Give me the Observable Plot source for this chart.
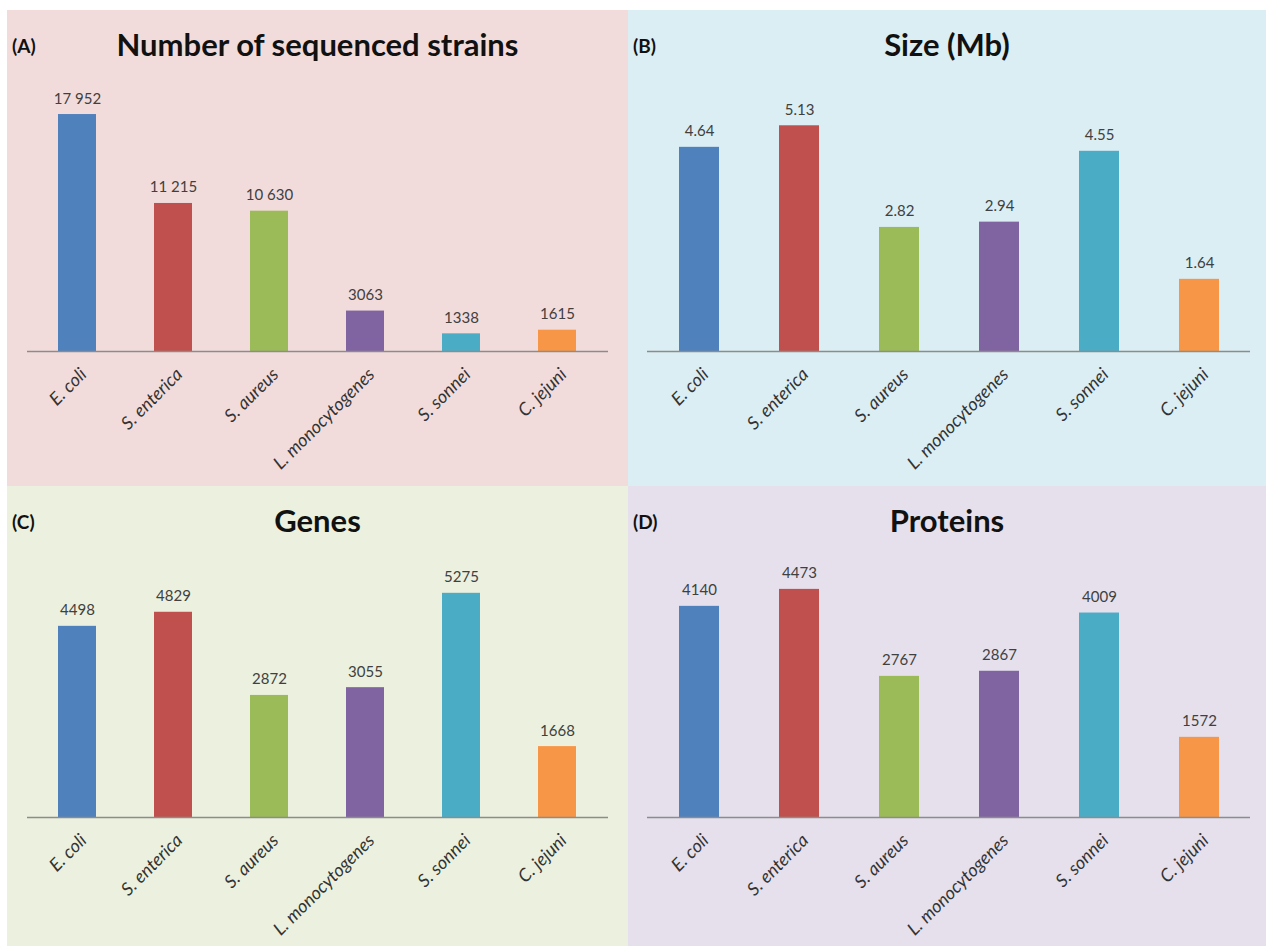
<!DOCTYPE html>
<html>
<head>
<meta charset="utf-8">
<script src="https://cdn.jsdelivr.net/npm/d3@7"></script>
<script src="https://cdn.jsdelivr.net/npm/@observablehq/plot@0.6"></script>
<style>
  html, body { margin: 0; padding: 0; background: #ffffff; }
  #root { position: relative; width: 1266px; height: 946px; overflow: hidden; font-family: Lato, "Open Sans", sans-serif; }
  .panel { position: absolute; }
  .panel svg { display: block; }
  .tag { position: absolute; font-weight: 700; font-size: 19px; color: #111; }
  .ttl { position: absolute; left: 0; right: 0; text-align: center; font-weight: 700; font-size: 31px; color: #111; line-height: 1; }
</style>
</head>
<body>
<div id="root"></div>
<script>
// ---- data ----
const species = ["E. coli", "S. enterica", "S. aureus", "L. monocytogenes", "S. sonnei", "C. jejuni"];
const strains = [17952, 11215, 10630, 3063, 1338, 1615];
const sizeMb = [4.64, 5.13, 2.82, 2.94, 4.55, 1.64];
const genes = [4498, 4829, 2872, 3055, 5275, 1668];
const proteins = [4140, 4473, 2767, 2867, 4009, 1572];
const barColors = ["#4F81BD", "#C0504D", "#9BBB59", "#8064A2", "#4BACC6", "#F79646"];

const panelTags = ["(A)", "(B)", "(C)", "(D)"];
const panelTitles = ["Number of sequenced strains", "Size (Mb)", "Genes", "Proteins"];
const panelBg = ["#F2DCDB", "#DBEEF3", "#EBF1DE", "#E5E0EC"];
const yMaxes = [20000, 6, 6000, 5000];

const fmtStrains = v => v >= 10000 ? d3.format(",")(v).replace(",", " ") : String(v);
const fmtSize = d3.format(".2f");
const fmtInt = v => String(v);

const panels = [
  {values: strains, fmt: fmtStrains, left: 7, top: 10, width: 621, height: 476, mt: 77, mb: 135, ml: 20, mr: 20},
  {values: sizeMb, fmt: fmtSize, left: 628, top: 10, width: 638, height: 476, mt: 77, mb: 135, ml: 19, mr: 16},
  {values: genes, fmt: fmtInt, left: 7, top: 486, width: 621, height: 460, mt: 76, mb: 129, ml: 20, mr: 20},
  {values: proteins, fmt: fmtInt, left: 628, top: 486, width: 638, height: 460, mt: 76, mb: 129, ml: 19, mr: 16}
];

const root = document.getElementById("root");

panels.forEach((p, i) => {
  const rows = species.map((s, j) => ({species: s, value: p.values[j], label: p.fmt(p.values[j])}));
  const div = document.createElement("div");
  div.className = "panel";
  div.style.left = p.left + "px";
  div.style.top = p.top + "px";
  div.style.width = p.width + "px";
  div.style.height = p.height + "px";

  const chart = Plot.plot({
    width: p.width,
    height: p.height,
    marginTop: p.mt,
    marginBottom: p.mb,
    marginLeft: p.ml,
    marginRight: p.mr,
    style: {background: panelBg[i], fontFamily: "Lato, 'Open Sans', sans-serif", overflow: "visible"},
    x: {domain: species, paddingInner: 0.6, paddingOuter: 0.3, axis: null},
    y: {domain: [0, yMaxes[i]], axis: null},
    color: {domain: species, range: barColors},
    marks: [
      Plot.barY(rows, {x: "species", y: "value", fill: "species"}),
      Plot.ruleY([0], {stroke: "#8C8C8C", strokeWidth: 1.5}),
      Plot.text(rows, {x: "species", y: "value", text: "label", dy: -11, lineAnchor: "bottom", fontSize: 15, fill: "#404040"}),
      Plot.text(rows, {x: "species", y: () => 0, text: "species", rotate: -45, textAnchor: "end", lineAnchor: "middle", dx: 6, dy: 20, fontSize: 18, fontStyle: "italic", fill: "#333333"})
    ]
  });
  div.appendChild(chart);

  const tag = document.createElement("div");
  tag.className = "tag";
  tag.textContent = panelTags[i];
  tag.style.left = "5px";
  tag.style.top = "24px";
  div.appendChild(tag);

  const ttl = document.createElement("div");
  ttl.className = "ttl";
  ttl.textContent = panelTitles[i];
  ttl.style.top = "19px";
  div.appendChild(ttl);

  root.appendChild(div);
});
</script>
</body>
</html>
